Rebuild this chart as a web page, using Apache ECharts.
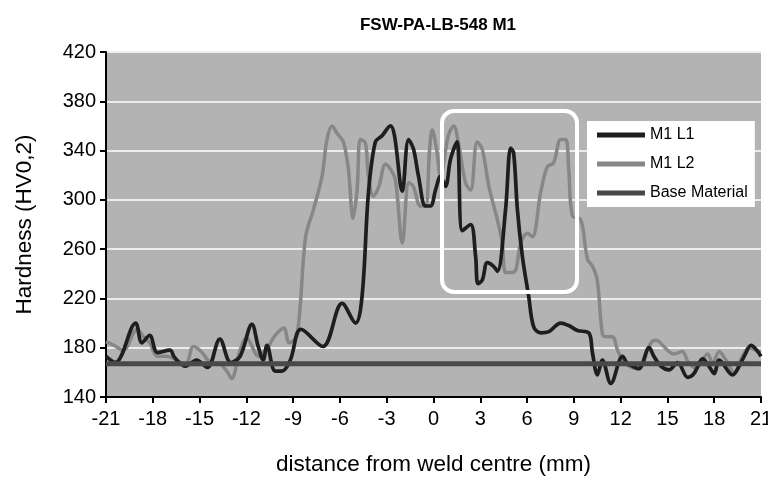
<!DOCTYPE html>
<html>
<head>
<meta charset="utf-8">
<script src="https://cdn.jsdelivr.net/npm/echarts@6/dist/echarts.min.js"></script>
<style>
html,body{margin:0;padding:0;background:#fff;}
#c{width:768px;height:479px;}
</style>
</head>
<body>
<div id="c"></div>
<script>
// ---- data ----
const titleText = 'FSW-PA-LB-548 M1';
const xName = 'distance from weld centre (mm)';
const yName = 'Hardness (HV0,2)';
const seriesNames = ['M1 L1', 'M1 L2', 'Base Material'];

const l1X = [-21.0,-20.4,-19.1,-18.7,-18.2,-17.7,-16.9,-16.6,-15.9,-15.2,-14.5,-13.7,-13.0,-12.4,-11.64,-11.24,-10.92,-10.68,-10.15,-9.72,-9.18,-8.5,-7.1,-5.86,-5.0,-4.58,-4.17,-3.73,-3.3,-2.76,-2.5,-2.0,-1.6,-1.28,-0.96,-0.51,-0.19,0.13,0.45,0.77,1.09,1.5,1.85,2.38,2.7,2.85,3.13,3.45,3.85,4.1,4.62,4.95,5.14,5.38,5.7,6.1,6.42,6.87,7.39,8.16,8.67,9.23,9.96,10.19,10.51,10.83,11.37,12.12,12.44,12.76,13.17,13.83,14.13,14.58,15.1,15.65,16.3,16.7,17.26,17.66,18.0,18.32,19.18,19.6,20.0,20.36,20.79,21.0];
const l1Y = [173,168,200,184,190,176,178,172,165,170,164,187,168,173,199,181,170,182,161,161,170,195,181,216,200,222,306,347,352,360,352,307,349,341,319,295,295,308,319,311,333,347,275,280,254,232,235,249,246,242,292,342,338,292,254,222,197,192,193,200,198,194,192,176,158,170,151,173,167,165,163,180,173,165,162,168,156,159,171,165,159,170,158,165,175,182,177,173];

const l2X = [-21.0,-20.5,-19.9,-19.0,-18.6,-18.2,-17.7,-17.1,-16.5,-15.9,-15.4,-14.9,-14.3,-13.7,-13.2,-12.95,-12.4,-12.0,-11.2,-10.6,-10.15,-9.6,-9.25,-8.75,-8.2,-7.7,-7.15,-6.83,-6.5,-6.19,-5.78,-5.46,-5.16,-4.9,-4.69,-4.37,-4.17,-3.85,-3.5,-3.08,-2.76,-2.44,-2.0,-1.58,-1.3,-0.83,-0.51,-0.25,-0.08,0.2,0.45,0.95,1.3,1.6,2.05,2.38,2.8,3.13,3.55,4.09,4.41,4.62,4.95,5.27,5.59,6.02,6.34,6.87,7.3,7.7,8.16,8.48,8.67,8.91,9.44,9.87,10.2,10.5,10.83,11.05,11.47,11.8,12.1,12.4,13.1,13.94,14.26,14.77,15.0,15.4,15.97,16.3,16.83,17.58,17.9,18.32,18.75,19.29,19.8,20.25,20.79,21.0];
const l2Y = [185,182,178,195,189,184,173,173,170,166,181,177,168,167,160,155,178,188,173,181,190,196,184,190,270,292,319,349,360,354,347,325,285,308,349,346,319,303,311,329,325,316,265,314,311,295,295,341,357,341,319,352,360,346,314,308,347,341,311,284,265,241,241,243,265,273,270,306,327,330,349,349,325,287,284,252,246,235,191,189,189,178,170,166,163,184,186,181,178,175,177,169,163,175,167,177,170,160,173,180,177,176];

const baseX = [-21, 21];
const baseY = [167, 167];

const xMin = -21, xMax = 21, xStep = 3;
const yMin = 140, yMax = 420, yStep = 40;

// ---- build ----
const zip = (xs, ys) => xs.map((x, i) => [x, ys[i]]);
const chart = echarts.init(document.getElementById('c'), null, {renderer: 'canvas'});
const font = '"Liberation Sans", Arial, sans-serif';

chart.setOption({
  animation: false,
  backgroundColor: '#ffffff',
  title: {
    text: titleText,
    left: 433, top: 12, textAlign: 'center',
    textStyle: {fontFamily: font, fontWeight: 'bold', fontSize: 17, color: '#000'}
  },
  grid: {
    left: 106, right: 7, top: 52, bottom: 82,
    outerBoundsMode: 'none', containLabel: false,
    show: true, backgroundColor: '#b3b3b3', borderWidth: 0
  },
  legend: {
    data: seriesNames,
    orient: 'vertical',
    left: 587, top: 121,
    backgroundColor: '#ffffff',
    padding: [6, 7, 6, 10],
    itemWidth: 48, itemHeight: 5, itemGap: 13,
    icon: 'rect',
    textStyle: {fontFamily: font, fontSize: 16, color: '#000'}
  },
  xAxis: {
    type: 'value', min: xMin, max: xMax, interval: xStep,
    name: xName, nameLocation: 'middle', nameGap: 56, nameMoveOverlap: false,
    nameTextStyle: {fontFamily: font, fontSize: 22.5, color: '#000'},
    axisLine: {show: true, onZero: false, lineStyle: {color: '#000', width: 2}},
    axisTick: {show: true, length: 6, lineStyle: {color: '#000', width: 2}},
    axisLabel: {fontFamily: font, fontSize: 20, color: '#000', margin: 12},
    splitLine: {show: false}
  },
  yAxis: {
    type: 'value', min: yMin, max: yMax, interval: yStep,
    name: yName, nameLocation: 'middle', nameGap: 70, nameRotate: 90, nameMoveOverlap: false,
    nameTextStyle: {fontFamily: font, fontSize: 22.5, color: '#000'},
    axisLine: {show: true, onZero: false, lineStyle: {color: '#000', width: 2}},
    axisTick: {show: true, length: 6, lineStyle: {color: '#000', width: 2}},
    axisLabel: {fontFamily: font, fontSize: 20, color: '#000', margin: 10},
    splitLine: {show: true, lineStyle: {color: '#ececec', width: 2}}
  },
  graphic: [{
    type: 'rect', z: 100,
    shape: {x: 442, y: 111, width: 135, height: 181, r: 12},
    style: {fill: 'none', stroke: '#ffffff', lineWidth: 4}
  }],
  series: [
    {name: seriesNames[0], type: 'line', data: zip(l1X, l1Y), smooth: 0.35, showSymbol: false, z: 4,
     lineStyle: {color: '#1e1e1e', width: 3.7}, itemStyle: {color: '#1e1e1e'}},
    {name: seriesNames[1], type: 'line', data: zip(l2X, l2Y), smooth: 0.35, showSymbol: false, z: 3,
     lineStyle: {color: '#878787', width: 3.5}, itemStyle: {color: '#878787'}},
    {name: seriesNames[2], type: 'line', data: zip(baseX, baseY), showSymbol: false, z: 5,
     lineStyle: {color: '#494949', width: 5}, itemStyle: {color: '#494949'}}
  ]
});
</script>
</body>
</html>
